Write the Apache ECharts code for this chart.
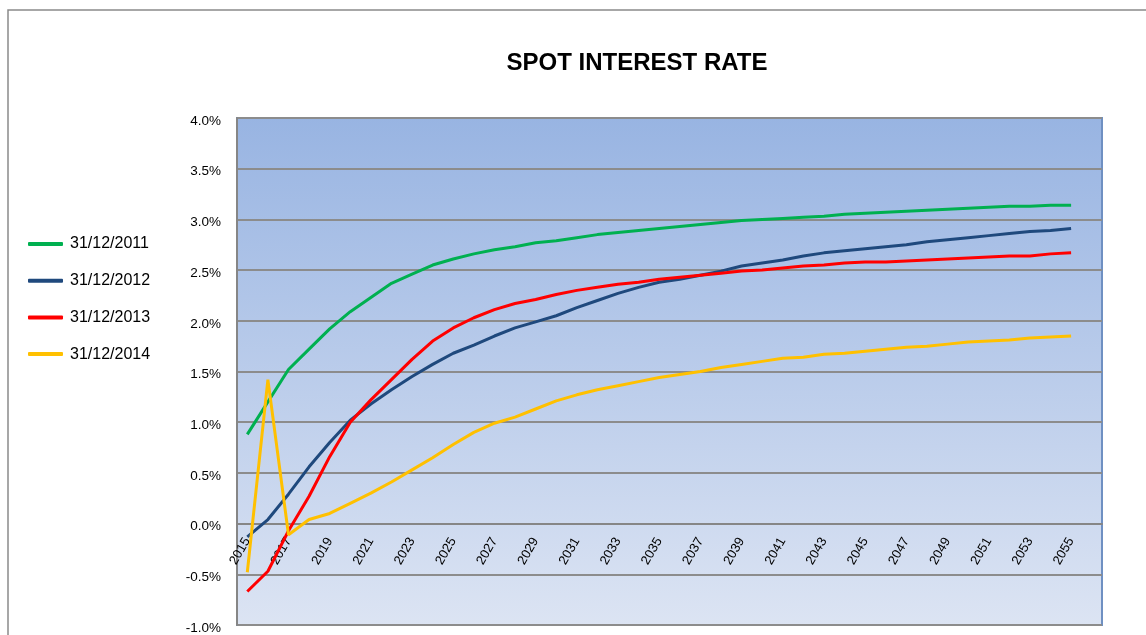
<!DOCTYPE html>
<html>
<head>
<meta charset="utf-8">
<title>Spot interest rate</title>
<script src="https://cdn.jsdelivr.net/npm/echarts@6/dist/echarts.min.js"></script>
<style>
  html, body { margin: 0; padding: 0; background: #fff; }
  #chart { width: 1146px; height: 635px; }
</style>
</head>
<body>
<div id="chart"></div>
<script>
// years 2015..2056, the last slot is left empty like the original sheet
var years = [];
for (var y = 2015; y <= 2056; y++) years.push(String(y));

var seriesNames = ['31/12/2011', '31/12/2012', '31/12/2013', '31/12/2014'];

// spot rates in %
var rates2011 = [0.88, 1.20, 1.52, 1.72, 1.92, 2.09, 2.23, 2.37, 2.46, 2.55, 2.61, 2.66, 2.70, 2.73,
  2.77, 2.79, 2.82, 2.85, 2.87, 2.89, 2.91, 2.93, 2.95, 2.97, 2.99, 3.00, 3.01, 3.02, 3.03, 3.05,
  3.06, 3.07, 3.08, 3.09, 3.10, 3.11, 3.12, 3.13, 3.13, 3.14, 3.14, null];
var rates2012 = [-0.13, 0.04, 0.29, 0.56, 0.80, 1.02, 1.18, 1.32, 1.45, 1.57, 1.68, 1.76, 1.85, 1.93,
  1.99, 2.05, 2.13, 2.20, 2.27, 2.33, 2.38, 2.41, 2.45, 2.49, 2.54, 2.57, 2.60, 2.64, 2.67, 2.69,
  2.71, 2.73, 2.75, 2.78, 2.80, 2.82, 2.84, 2.86, 2.88, 2.89, 2.91, null];
var rates2013 = [-0.67, -0.47, -0.07, 0.27, 0.66, 1.00, 1.22, 1.42, 1.62, 1.80, 1.93, 2.03, 2.11, 2.17,
  2.21, 2.26, 2.30, 2.33, 2.36, 2.38, 2.41, 2.43, 2.45, 2.47, 2.49, 2.50, 2.52, 2.54, 2.55, 2.57,
  2.58, 2.58, 2.59, 2.60, 2.61, 2.62, 2.63, 2.64, 2.64, 2.66, 2.67, null];
var rates2014 = [-0.48, 1.42, -0.11, 0.04, 0.10, 0.20, 0.30, 0.41, 0.53, 0.65, 0.78, 0.90, 0.99, 1.05,
  1.13, 1.21, 1.27, 1.32, 1.36, 1.40, 1.44, 1.47, 1.50, 1.54, 1.57, 1.60, 1.63, 1.64, 1.67, 1.68,
  1.70, 1.72, 1.74, 1.75, 1.77, 1.79, 1.80, 1.81, 1.83, 1.84, 1.85, null];

var colors = ['#00b050', '#1f497d', '#ff0000', '#ffc000'];
var allRates = [rates2011, rates2012, rates2013, rates2014];

var yMin = -1, yMax = 4;
var gridTop = 118, gridBottom = 10, chartH = 635;
// push the category axis up to the 0% line (onZero is ignored here)
var plotH = chartH - gridTop - gridBottom;
var zeroOffset = -plotH * (0 - yMin) / (yMax - yMin);

var chart = echarts.init(document.getElementById('chart'));

var series = seriesNames.map(function (name, i) {
  return {
    name: name,
    type: 'line',
    data: allRates[i],
    showSymbol: false,
    symbol: 'none',
    lineStyle: { color: colors[i], width: 3 },
    itemStyle: { color: colors[i] },
    z: 3
  };
});

chart.setOption({
  backgroundColor: '#fff',
  animation: false,
  title: {
    text: 'SPOT INTEREST RATE',
    left: 632,
    textAlign: 'center',
    top: 46,
    textStyle: {
      fontFamily: 'Liberation Sans, Arial',
      fontWeight: 'bold',
      fontSize: 24,
      color: '#000'
    }
  },
  graphic: [{
    type: 'rect',
    shape: { x: 8, y: 10, width: 1160, height: 660 },
    style: { fill: 'none', stroke: '#8a8a8a', lineWidth: 1.5 },
    silent: true
  }],
  legend: {
    orient: 'vertical',
    left: 23,
    top: 231,
    itemGap: 20.7,
    itemWidth: 35,
    itemHeight: 4,
    icon: 'roundRect',
    textStyle: { fontFamily: 'Liberation Sans, Arial', fontSize: 16, color: '#000', padding: [0, 0, 0, 2] },
    data: seriesNames
  },
  grid: {
    left: 237,
    right: 44,
    top: gridTop,
    bottom: gridBottom,
    containLabel: false,
    outerBoundsMode: 'none',
    show: true,
    borderColor: '#6f90c2',
    borderWidth: 2,
    backgroundColor: new echarts.graphic.LinearGradient(0, 0, 0, 1, [
      { offset: 0, color: '#98b4e2' },
      { offset: 1, color: '#dce4f3' }
    ])
  },
  xAxis: {
    type: 'category',
    data: years,
    boundaryGap: true,
    position: 'bottom',
    offset: zeroOffset,
    z: 1,
    axisLine: { onZero: false, lineStyle: { color: '#868686', width: 2 } },
    axisTick: { show: false },
    axisLabel: {
      interval: 1,
      rotate: 60,
      margin: 15,
      fontFamily: 'Liberation Sans Narrow, Liberation Sans, Arial',
      fontSize: 13,
      color: '#000'
    },
    splitLine: { show: false }
  },
  yAxis: {
    type: 'value',
    min: yMin,
    max: yMax,
    interval: 0.5,
    axisLine: { show: true, onZero: false, lineStyle: { color: '#868686', width: 2 } },
    axisTick: { show: false },
    axisLabel: {
      margin: 16,
      verticalAlign: 'top',
      lineHeight: 6,
      fontFamily: 'Liberation Sans, Arial',
      fontSize: 13.5,
      color: '#000',
      formatter: function (v) { return v.toFixed(1) + '%'; }
    },
    splitLine: { lineStyle: { color: '#8c8c8c', width: 2 } }
  },
  series: series
});
</script>
</body>
</html>
